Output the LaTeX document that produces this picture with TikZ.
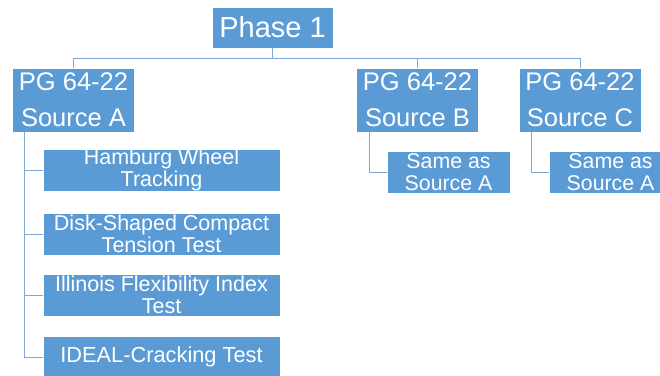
\documentclass[tikz,border=0pt]{standalone}
\usepackage{fontspec}
\setmainfont{Liberation Sans}
\definecolor{boxblue}{HTML}{5B9BD5}
\definecolor{linkblue}{HTML}{7FA8D6}
\begin{document}
\begin{tikzpicture}[x=1pt,y=-1pt,
  box/.style={draw=white, line width=0.6pt, fill=boxblue, text=white,
    inner sep=0pt, align=center},
  topbox/.style={box, minimum width=121pt, minimum height=41pt,
    font=\fontsize{29}{30}\selectfont},
  srcbox/.style={box, minimum width=122pt, minimum height=64pt,
    font=\fontsize{25.5}{36}\selectfont},
  testbox/.style={box, minimum width=237pt, minimum height=42pt,
    font=\fontsize{21.5}{21.5}\selectfont},
  samebox/.style={box, minimum width=123pt, minimum height=42pt,
    font=\fontsize{21.3}{22}\selectfont},
  link/.style={draw=linkblue, line width=1pt}]
\useasboundingbox (0,0) rectangle (660,375);

% top level
\node[topbox] (p1) at (272.5,27.5) {Phase 1};

% binder sources
\node[srcbox] (sA) at (73.5,100) {PG 64-22\\Source A};
\node[srcbox] (sB) at (417.5,100) {PG 64-22\\Source B};
\node[srcbox] (sC) at (580,100) {PG 64-22\\Source C};

% tests for source A
\node[testbox] (hw) at (161.5,170) {Hamburg Wheel\\Tracking};
\node[testbox] (dc) at (161.5,234) {Disk-Shaped Compact\\Tension Test};
\node[testbox] (fi) at (161.5,295) {Illinois Flexibility Index\\Test};
\node[testbox, font=\fontsize{21.8}{23}\selectfont] (ic) at (161.5,357) {IDEAL-Cracking Test};

% sources B and C
\node[samebox] (mB) at (448.5,172) {Same as\\Source A};
\node[samebox] (mC) at (610.5,172) {Same as\\Source A};

% connectors
\coordinate (bus) at (272.5,58);
\draw[link] (p1.south) -- (bus);
\draw[link] (sA.north) |- (bus);
\draw[link] (sB.north) |- (bus);
\draw[link] (sC.north) |- (bus);

\coordinate (railA) at (24,132);
\draw[link] (railA) |- (ic.west);
\draw[link] (railA |- hw.west) -- (hw.west);
\draw[link] (railA |- dc.west) -- (dc.west);
\draw[link] (railA |- fi.west) -- (fi.west);

\coordinate (railB) at (369,132);
\draw[link] (railB) |- (mB.west);
\coordinate (railC) at (531,132);
\draw[link] (railC) |- (mC.west);
\end{tikzpicture}
\end{document}
